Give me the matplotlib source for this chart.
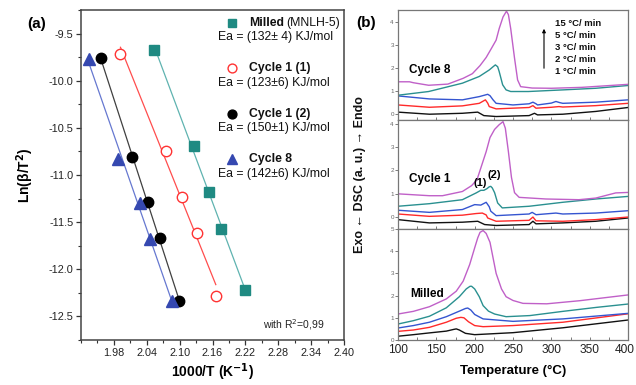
import numpy as np
import matplotlib
matplotlib.use("Agg")
import matplotlib.pyplot as plt
from matplotlib.ticker import MultipleLocator
import matplotlib.transforms as mtransforms

plt.rcParams['font.family'] = ['Liberation Sans', 'DejaVu Sans']

# ---------------- Panel (a) data: Kissinger plot ----------------
milled_x = [2.053, 2.127, 2.154, 2.175, 2.219]
milled_y = [-9.67, -10.69, -11.18, -11.57, -12.22]
c1a_x = [1.992, 2.075, 2.104, 2.132, 2.166]
c1a_y = [-9.72, -10.75, -11.23, -11.61, -12.28]
c1b_x = [1.956, 2.013, 2.042, 2.064, 2.099]
c1b_y = [-9.76, -10.81, -11.29, -11.67, -12.34]
c8_x = [1.935, 1.988, 2.028, 2.046, 2.086]
c8_y = [-9.77, -10.83, -11.30, -11.68, -12.34]

legend_names = ["Milled", "Cycle 1 (1)", "Cycle 1 (2)", "Cycle 8"]
legend_ea = ["Ea = (132\u00b1 4) KJ/mol", "Ea = (123\u00b16) KJ/mol",
             "Ea = (150\u00b11) KJ/mol", "Ea = (142\u00b16) KJ/mol"]
xticks_a = [1.98, 2.04, 2.10, 2.16, 2.22, 2.28, 2.34, 2.40]
yticks_a = [-9.5, -10.0, -10.5, -11.0, -11.5, -12.0, -12.5]

# ---------------- Panel (b) data: DSC curves ----------------
rates = ["15 \u00b0C/ min", "5 \u00b0C/ min", "3 \u00b0C/ min", "2 \u00b0C/ min", "1 \u00b0C/ min"]
xticks_b = [100, 150, 200, 250, 300, 350, 400]

# Cycle 8
c8_T15 = [100, 115, 120, 140, 165, 185, 197, 207, 215, 222, 228, 232, 237, 241.5, 244, 247, 252, 256, 260, 275, 300, 340, 400]
c8_D15 = [1.40, 1.40, 1.36, 1.25, 1.30, 1.55, 1.75, 2.10, 2.45, 2.85, 3.20, 3.70, 4.20, 4.45, 4.30, 3.70, 2.42, 1.48, 1.19, 1.13, 1.12, 1.16, 1.29]
c8_T5 = [100, 140, 184, 206, 219, 224, 227, 230, 232, 236.5, 241, 247, 270, 315, 358, 400]
c8_D5 = [0.82, 0.98, 1.34, 1.63, 1.91, 2.05, 2.13, 2.05, 1.84, 1.27, 1.05, 0.98, 0.98, 1.05, 1.12, 1.24]
c8_T3 = [100, 141, 184, 206, 217, 220, 224, 228, 250, 271, 276, 280, 282, 300, 306, 311, 315, 358, 400]
c8_D3 = [0.79, 0.66, 0.62, 0.76, 0.86, 0.80, 0.62, 0.47, 0.40, 0.45, 0.52, 0.45, 0.40, 0.48, 0.55, 0.50, 0.47, 0.52, 0.62]
c8_T2 = [100, 141, 184, 206, 214, 217, 219, 228, 271, 276, 280, 300, 310, 315, 358, 400]
c8_D2 = [0.40, 0.30, 0.36, 0.47, 0.62, 0.48, 0.33, 0.23, 0.29, 0.37, 0.26, 0.30, 0.33, 0.31, 0.37, 0.47]
c8_T1 = [100, 141, 184, 204, 212, 228, 271, 278, 282, 315, 358, 400]
c8_D1 = [0.09, 0.00, 0.04, 0.09, -0.06, -0.10, -0.06, 0.04, -0.03, 0.00, 0.12, 0.29]

# Cycle 1
c1_T15 = [100, 141, 158, 184, 196, 203, 210, 215, 220, 226, 232, 237, 240, 244, 248, 252, 258, 293, 336, 358, 384, 400]
c1_D15 = [1.00, 0.92, 0.92, 1.10, 1.35, 1.60, 2.30, 2.80, 3.40, 3.75, 3.95, 4.08, 3.80, 2.80, 1.70, 1.05, 0.85, 0.78, 0.75, 0.82, 1.04, 1.06]
c1_T5 = [100, 141, 184, 202, 208, 212, 216, 219, 221, 223, 226, 230, 236, 271, 315, 358, 400]
c1_D5 = [0.47, 0.58, 0.75, 1.04, 1.15, 1.15, 1.22, 1.30, 1.32, 1.25, 1.05, 0.61, 0.40, 0.47, 0.64, 0.78, 0.89]
c1_T3 = [100, 141, 184, 200, 208, 215, 219, 221, 228, 271, 275, 280, 306, 315, 358, 400]
c1_D3 = [0.30, 0.21, 0.33, 0.54, 0.52, 0.64, 0.45, 0.26, 0.07, 0.14, 0.21, 0.11, 0.18, 0.14, 0.18, 0.28]
c1_T2 = [100, 141, 184, 202, 210, 215, 217, 228, 271, 276, 280, 315, 358, 400]
c1_D2 = [0.14, 0.04, 0.09, 0.16, 0.18, 0.10, -0.03, -0.17, -0.13, 0.01, -0.15, -0.17, -0.10, 0.01]
c1_T1 = [100, 141, 184, 204, 213, 228, 271, 276, 280, 315, 358, 400]
c1_D1 = [-0.10, -0.24, -0.21, -0.17, -0.31, -0.35, -0.31, -0.17, -0.28, -0.24, -0.17, -0.03]

# Milled
m_T15 = [100, 120, 141, 163, 176, 185, 193.5, 200, 204, 207, 211, 215, 220, 224, 228, 235, 241, 250, 263, 294, 337, 400]
m_D15 = [1.17, 1.29, 1.50, 1.85, 2.20, 2.65, 3.40, 4.15, 4.60, 4.85, 4.93, 4.80, 4.40, 3.70, 3.00, 2.30, 1.95, 1.78, 1.65, 1.63, 1.77, 2.03]
m_T5 = [100, 120, 141, 163, 180, 189, 194, 196, 200, 206, 211, 218, 226, 241, 272, 315, 359, 400]
m_D5 = [0.72, 0.87, 1.07, 1.45, 1.95, 2.30, 2.42, 2.42, 2.30, 1.95, 1.55, 1.30, 1.17, 1.05, 1.10, 1.29, 1.47, 1.62]
m_T3 = [100, 120, 141, 163, 180, 188, 191, 195, 200, 211, 250, 315, 400]
m_D3 = [0.54, 0.65, 0.80, 1.05, 1.30, 1.42, 1.44, 1.35, 1.15, 0.95, 0.84, 0.95, 1.20]
m_T2 = [100, 120, 141, 163, 176, 182, 186, 192, 200, 211, 250, 315, 400]
m_D2 = [0.39, 0.45, 0.57, 0.80, 0.98, 1.02, 1.00, 0.82, 0.65, 0.60, 0.65, 0.80, 1.18]
m_T1 = [100, 120, 141, 163, 173, 176, 180, 188, 200, 250, 315, 400]
m_D1 = [0.17, 0.24, 0.32, 0.40, 0.48, 0.50, 0.45, 0.30, 0.24, 0.33, 0.55, 0.90]

W, H = 636, 385
fig = plt.figure(figsize=(W / 100, H / 100), dpi=100)

def fx(px):
    return px / W

def fy(py):
    return 1 - py / H

# ---------------- Panel (a) ----------------
axa = fig.add_axes([fx(81), fy(340), (344 - 81) / W, (340 - 10) / H])
series = [
    (milled_x, milled_y, dict(marker='s', color='#1f8a82', mfc='#1f8a82', ms=6.5), '#5fb3b0'),
    (c1a_x, c1a_y, dict(marker='o', color='#ff3333', mfc='white', ms=7.5, mew=1.0), '#ff4d4d'),
    (c1b_x, c1b_y, dict(marker='o', color='black', mfc='black', ms=7.5), '#404040'),
    (c8_x, c8_y, dict(marker='^', color='#3548b0', mfc='#3548b0', ms=8.5), '#6678d0'),
]
for xs, ys, mk, lc in series:
    xs = np.array(xs); ys = np.array(ys)
    p = np.polyfit(xs, ys, 1)
    xl = np.array([xs.min(), xs.max()])
    axa.plot(xl, np.polyval(p, xl), color=lc, lw=0.9, zorder=1)
    axa.plot(xs, ys, ls='none', zorder=2, **mk)

axa.set_xlim(1.92, 2.40)
axa.set_ylim(-12.75, -9.25)
axa.set_xticks(xticks_a)
axa.set_xticklabels([f"{v:.2f}" for v in xticks_a])
axa.set_yticks(yticks_a)
axa.set_yticklabels([f"{v:.1f}" for v in yticks_a])
axa.xaxis.set_minor_locator(MultipleLocator(0.03))
axa.yaxis.set_minor_locator(MultipleLocator(0.25))
axa.tick_params(which='major', direction='out', length=3.5, width=0.9, labelsize=7.8, colors='#333333', pad=2)
axa.tick_params(which='minor', direction='out', length=2, width=0.8, colors='#333333')
axa.tick_params(axis='x', labelcolor='#222222')
axa.tick_params(axis='y', labelcolor='#222222')
for s in axa.spines.values():
    s.set_color('#444444'); s.set_linewidth(1.1)
axa.set_xlabel("1000/T (K$^{\\mathbf{-1}}$)", fontsize=10, fontweight='bold', labelpad=3)
axa.set_ylabel("Ln(\u03b2/T$^{\\mathbf{2}}$)", fontsize=10, fontweight='bold', labelpad=9)

# legend-like texts
leg_marks = [('s', '#1f8a82', '#1f8a82', 6.5), ('o', '#ff3333', 'white', 7.5),
             ('o', 'black', 'black', 7.5), ('^', '#3548b0', '#3548b0', 8.5)]
name_y = [23, 68, 114, 159]
ea_y = [37, 83, 128, 174]
for i in range(4):
    m, c, fc, ms = leg_marks[i]
    fig.lines.append(matplotlib.lines.Line2D([fx(232)], [fy(name_y[i])], marker=m, color=c,
                                             mfc=fc, ms=ms * 0.85, ls='none', transform=fig.transFigure))
    fig.text(fx(249), fy(name_y[i]), legend_names[i], fontsize=8.8, fontweight='bold',
             va='center', ha='left', color='#111111')
    fig.text(fx(218), fy(ea_y[i]), legend_ea[i], fontsize=8.8, va='center', ha='left', color='#111111')
fig.text(fx(286), fy(name_y[0]), "(MNLH-5)", fontsize=8.8, va='center', ha='left', color='#111111')
fig.text(fx(263), fy(325), "with R$^2$=0,99", fontsize=7.5, va='center', ha='left', color='#222222')
fig.text(fx(27), fy(24), "(a)", fontsize=11, fontweight='bold', va='center', ha='left')

# ---------------- Panel (b) ----------------
cols = ['#c060c8', '#2a9090', '#3555d0', '#ff2a2a', '#111111']
panels = [
    (10, 120, (-0.25, 4.5), [0, 1, 2, 3, 4],
     [(c8_T15, c8_D15), (c8_T5, c8_D5), (c8_T3, c8_D3), (c8_T2, c8_D2), (c8_T1, c8_D1)]),
    (120, 229, (-0.5, 4.15), [0, 1, 2, 3, 4],
     [(c1_T15, c1_D15), (c1_T5, c1_D5), (c1_T3, c1_D3), (c1_T2, c1_D2), (c1_T1, c1_D1)]),
    (229, 340, (0, 5.0), [0, 1, 2, 3, 4, 5],
     [(m_T15, m_D15), (m_T5, m_D5), (m_T3, m_D3), (m_T2, m_D2), (m_T1, m_D1)]),
]
axes_b = []
for top, bot, yl, yt, curves in panels:
    ax = fig.add_axes([fx(398), fy(bot), (628 - 398) / W, (bot - top) / H])
    for (T, D), c in zip(curves[::-1], cols[::-1]):
        ax.plot(T, D, color=c, lw=1.0)
    ax.set_xlim(100, 400)
    ax.set_ylim(*yl)
    ax.set_yticks(yt)
    ax.set_xticks(xticks_b)
    ax.xaxis.set_minor_locator(MultipleLocator(25))
    ax.tick_params(axis='y', direction='out', length=2, width=0.6, labelsize=4.5,
                   colors='#666666', pad=1)
    ax.tick_params(axis='x', which='both', direction='in', length=2, width=0.6, colors='#666666')
    for s in ax.spines.values():
        s.set_color('#777777'); s.set_linewidth(0.9)
    axes_b.append(ax)
for ax in axes_b[:2]:
    ax.tick_params(axis='x', labelbottom=False)
axb = axes_b[2]
axb.set_xticklabels([str(v) for v in xticks_b])
axb.tick_params(axis='x', which='major', labelsize=8.6, labelcolor='#222222', pad=3)
# keep the last tick label inside the figure
last = axb.get_xticklabels()[-1]
last.set_transform(last.get_transform() + mtransforms.ScaledTranslation(-3 / 100, 0, fig.dpi_scale_trans))
axb.set_xlabel("Temperature (\u00b0C)", fontsize=9.5, fontweight='bold', labelpad=6)

fig.text(fx(360), fy(175), "Exo \u2190 DSC (a. u.) \u2192 Endo", rotation=90, fontsize=9,
         fontweight='bold', va='center', ha='center', color='#111111')
fig.text(fx(356), fy(23), "(b)", fontsize=11, fontweight='bold', va='center', ha='left')

fig.text(fx(409), fy(70), "Cycle 8", fontsize=8.5, fontweight='bold', va='center', ha='left')
fig.text(fx(409), fy(179), "Cycle 1", fontsize=8.5, fontweight='bold', va='center', ha='left')
fig.text(fx(410), fy(294), "Milled", fontsize=8.5, fontweight='bold', va='center', ha='left')
fig.text(fx(473), fy(183), "(1)", fontsize=8, fontweight='bold', va='center', ha='left')
fig.text(fx(487), fy(175), "(2)", fontsize=8, fontweight='bold', va='center', ha='left')

rate_y = [23, 35, 47, 59, 71]
for t, yy in zip(rates, rate_y):
    fig.text(fx(555), fy(yy), t, fontsize=6.8, fontweight='bold', va='center', ha='left', color='#111111')
fig.add_artist(matplotlib.patches.FancyArrowPatch((fx(544), fy(71)), (fx(544), fy(26)),
                                                  transform=fig.transFigure, arrowstyle='-|>',
                                                  mutation_scale=5, lw=0.8, color='black'))

fig.savefig("out.png", dpi=100)
